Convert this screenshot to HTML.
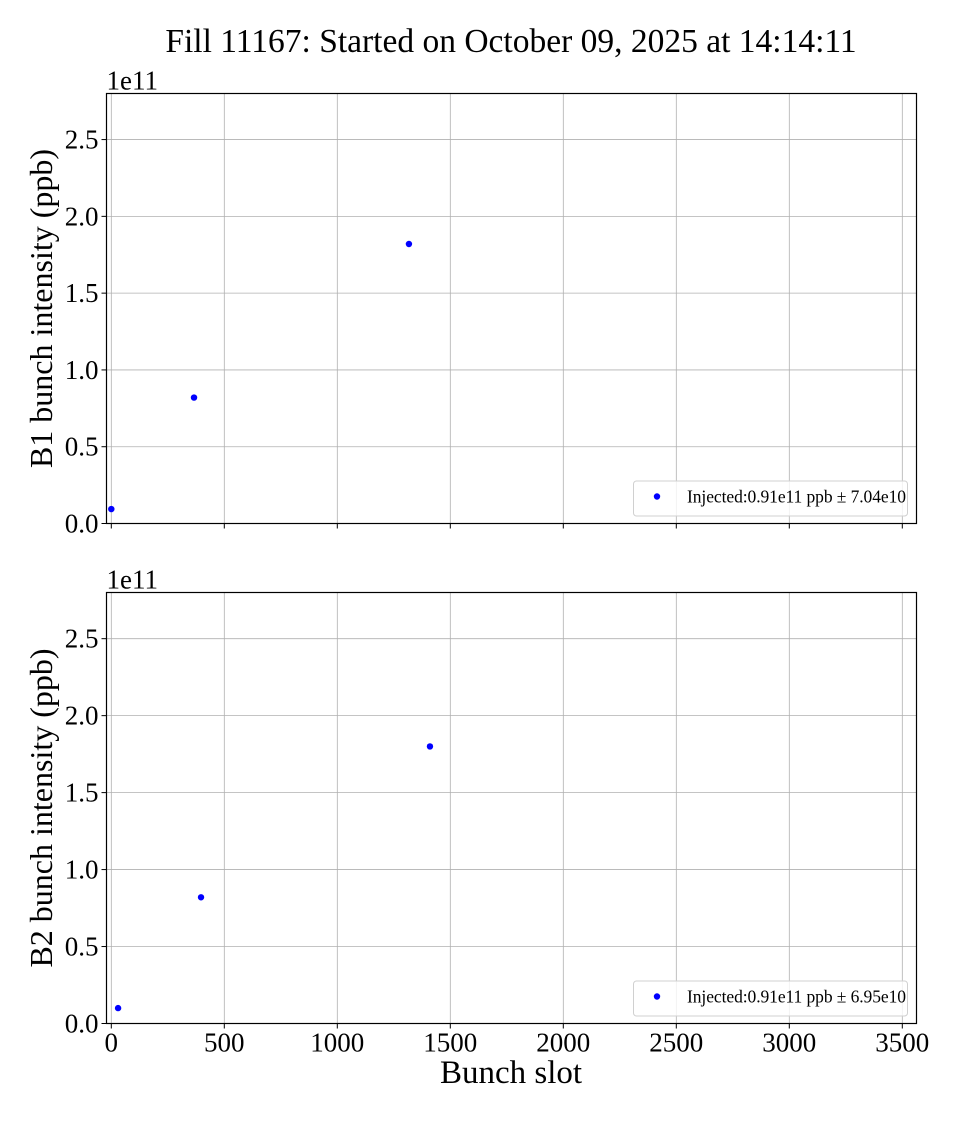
<!DOCTYPE html>
<html><head><meta charset="utf-8"><style>
html,body{margin:0;padding:0;background:#fff;}
svg text{font-family:"Liberation Serif",serif;fill:#000;}
</style></head><body>
<svg id="chart" width="960" height="1120" xmlns="http://www.w3.org/2000/svg">
<text x="511" y="52" font-size="33.5" text-anchor="middle">Fill 11167: Started on October 09, 2025 at 14:14:11</text>
<g id="p1"></g>
<g id="p2"></g>
<text x="511" y="1083" font-size="33" text-anchor="middle">Bunch slot</text>
</svg>
<script>
const xTicks=[0,500,1000,1500,2000,2500,3000,3500];
const yTicks=[0,0.5,1.0,1.5,2.0,2.5];
const yTickLabels=["0.0","0.5","1.0","1.5","2.0","2.5"];
const b1Slots=[0,366,1317];
const b1Values=[0.094,0.82,1.82];
const b2Slots=[30,397,1410];
const b2Values=[0.10,0.82,1.80];
const b1Legend="Injected:0.91e11 ppb \u00b1 7.04e10";
const b2Legend="Injected:0.91e11 ppb \u00b1 6.95e10";
const NS="http://www.w3.org/2000/svg";
const L=106.5,R=916.5,X0=111.3,XS=0.226;
function sx(v){return X0+v*XS;}
function mk(p,tag,at){const e=document.createElementNS(NS,tag);for(const k in at)e.setAttribute(k,at[k]);p.appendChild(e);return e;}
function panel(g,top,bot,slots,vals,ylab,leg,showX,nm){
  const sy=v=>bot-v*(bot-top)/2.8;
  xTicks.forEach(t=>{const l=mk(g,'line',{x1:sx(t),x2:sx(t),y1:top,y2:bot,stroke:'#b0b0b0','stroke-width':0.8});
    
    
    const tk=mk(g,'line',{x1:sx(t),x2:sx(t),y1:bot,y2:bot+5,stroke:'#000','stroke-width':1});
    
    
    if(showX){const tx=mk(g,'text',{x:sx(t),y:bot+28,'font-size':27,'text-anchor':'middle'});tx.textContent=t;
      
      }
  });
  yTicks.forEach((t,i)=>{const l=mk(g,'line',{x1:L,x2:R,y1:sy(t),y2:sy(t),stroke:'#b0b0b0','stroke-width':0.8});
    
    
    const tk=mk(g,'line',{x1:L-5,x2:L,y1:sy(t),y2:sy(t),stroke:'#000','stroke-width':1});
    
    
    const tx=mk(g,'text',{x:L-8,y:sy(t)+9,'font-size':27,'text-anchor':'end'});tx.textContent=yTickLabels[i];
    
    
  });
  const fr=mk(g,'rect',{x:L,y:top,width:R-L,height:bot-top,fill:'none',stroke:'#000','stroke-width':1.2});
  
  
  const off=mk(g,'text',{x:L,y:top-4,'font-size':27});off.textContent='1e11';
  
  
  const yl=mk(g,'text',{x:0,y:0,'font-size':32,'text-anchor':'middle',transform:`translate(52,${(top+bot)/2}) rotate(-90)`});yl.textContent=ylab;
  
  
  slots.forEach((s,i)=>{const c=mk(g,'circle',{cx:sx(s),cy:sy(vals[i]),r:3.2,fill:'#0000ff'});
    
    });
  const lg=mk(g,'g',{});
  
  
  mk(lg,'rect',{x:633.5,y:bot-42.5,width:274,height:35,rx:3,fill:'#fff','fill-opacity':0.8,stroke:'#d0d0d0','stroke-width':1});
  mk(lg,'circle',{cx:657,cy:bot-27,r:3.2,fill:'#0000ff'});
  const lt=mk(lg,'text',{x:687,y:bot-21,'font-size':17.5,textLength:219});lt.textContent=leg;
  
  
}
panel(document.getElementById('p1'),93.5,523.5,b1Slots,b1Values,'B1 bunch intensity (ppb)',b1Legend,false,'b1');
panel(document.getElementById('p2'),592.5,1023.5,b2Slots,b2Values,'B2 bunch intensity (ppb)',b2Legend,true,'b2');
</script>
</body></html>
